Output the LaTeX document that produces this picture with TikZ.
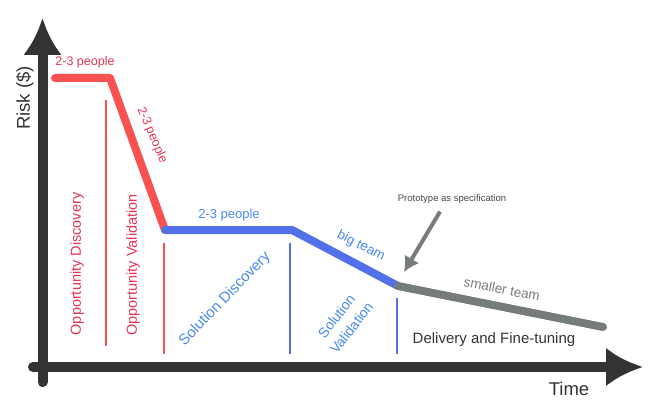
\documentclass[tikz,border=0pt]{standalone}
\usepackage{fontspec}
\setmainfont{Liberation Sans}
\usetikzlibrary{arrows.meta,calc,positioning}
\definecolor{AxisDark}{RGB}{51,51,51}
\definecolor{PhaseRed}{RGB}{250,82,82}
\definecolor{LabelRed}{RGB}{232,52,84}
\definecolor{PhaseBlue}{RGB}{82,112,232}
\definecolor{LabelBlue}{RGB}{72,138,240}
\definecolor{TeamGray}{RGB}{118,123,123}
\definecolor{NoteGray}{RGB}{70,70,70}

\begin{document}
\begin{tikzpicture}[x=1pt,y=-1pt,>=Latex,
  axis/.style={line width=10pt,AxisDark,line cap=round},
  phase/.style={line width=8pt,line cap=round,line join=round},
  divider/.style={line width=2pt},
  lbl/.style={inner sep=0pt,font=\fontsize{12.5}{14}\selectfont},
  stage/.style={inner sep=0pt,font=\fontsize{14.5}{17}\selectfont}]
\useasboundingbox (0,0) rectangle (668,409);
% axes
\coordinate (ybot) at (42.5,382);
\coordinate (ytop) at (42.5,18);
\coordinate (xleft) at (33,367);
\coordinate (xright) at (643,367);
\draw[axis,-{Latex[length=37pt,width=39pt]}] (ybot) -- (ytop);
\draw[axis,-{Latex[length=37pt,width=39pt]}] (xleft) -- (xright);
\node[rotate=90,inner sep=0pt,font=\fontsize{18.5}{20}\selectfont,AxisDark] (risk) at (25,98) {Risk (\$)};
\node[inner sep=0pt,font=\fontsize{18.5}{20}\selectfont,AxisDark] (time) at (569,389) {Time};
% risk curve
\coordinate (r1) at (55,78);
\coordinate (r2) at (110,78);
\coordinate (r3) at (165,230);
\coordinate (b2) at (292,230);
\coordinate (b3) at (398,286);
\coordinate (g2) at (603,327);
\draw[phase,PhaseRed] (r1) -- (r2) -- (r3);
\draw[phase,PhaseBlue] (r3) -- (b2) -- (b3);
\draw[phase,TeamGray] (b3) -- (g2);
% phase dividers
\draw[divider,PhaseRed] (106,100) -- (106,346);
\draw[divider,PhaseRed] (164,243) -- (164,354);
\draw[divider,PhaseBlue] (290,243) -- (290,354);
\draw[divider,PhaseBlue] (397,298) -- (397,354);
% team labels
\node[lbl,LabelRed] (redtop) at (85,62) {2-3 people};
\node[lbl,LabelRed,rotate=-67] (redslope) at (152,135) {2-3 people};
\node[lbl,LabelBlue,font=\fontsize{13}{15}\selectfont] (bluetop) at (229,215) {2-3 people};
\node[lbl,LabelBlue,rotate=-27,font=\fontsize{13.5}{15}\selectfont] (bigteam) at (361,246) {big team};
\node[lbl,TeamGray,rotate=-11,font=\fontsize{13.5}{15}\selectfont] (smaller) at (502,289) {smaller team};
% stages
\node[stage,LabelRed,rotate=90] (oppdisc) at (77,264) {Opportunity Discovery};
\node[stage,LabelRed,rotate=90] (oppval) at (133,265) {Opportunity Validation};
\node[stage,LabelBlue,rotate=46,font=\fontsize{15}{17}\selectfont] (soldisc) at (225,299) {Solution Discovery};
\node[stage,LabelBlue,rotate=52,align=center,font=\fontsize{14}{19}\selectfont] (solval) at (344,322) {Solution\\Validation};
\node[stage,AxisDark,font=\fontsize{15}{17}\selectfont] (delivery) at (494,340) {Delivery and Fine-tuning};
% prototype note
\node[inner sep=0pt,NoteGray,font=\fontsize{9.5}{11}\selectfont] (proto) at (452,199) {Prototype as specification};
\coordinate (protoTip) at (404,272);
\draw[TeamGray,line width=4pt,-{Latex[length=15pt,width=17pt]}] ($(proto.south)+(-12,8)$) -- (protoTip);
\end{tikzpicture}
\end{document}
